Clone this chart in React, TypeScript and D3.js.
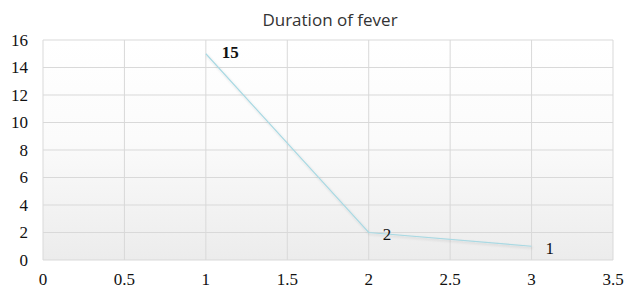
import React from "react";
import * as d3 from "d3";

const xValues = [1, 2, 3];
const feverDays = [15, 2, 1];
const dataLabels = ["15", "2", "1"];
const xTicks = [0, 0.5, 1, 1.5, 2, 2.5, 3, 3.5];
const yTicks = [0, 2, 4, 6, 8, 10, 12, 14, 16];

const width = 626;
const height = 288;
const margin = { top: 40, right: 13, bottom: 28, left: 43 };

const serif = "'Liberation Serif', 'Times New Roman', serif";

export default function App() {
  const x = d3
    .scaleLinear()
    .domain([0, 3.5])
    .range([margin.left, width - margin.right]);
  const y = d3
    .scaleLinear()
    .domain([0, 16])
    .range([height - margin.bottom, margin.top]);

  const pts = xValues.map((v, i) => ({ x: v, y: feverDays[i], label: dataLabels[i] }));
  const line = d3
    .line<{ x: number; y: number }>()
    .x((d) => x(d.x))
    .y((d) => y(d.y));

  const labelStyle = { fontFamily: serif, fontSize: 17 };

  return (
    <svg
      width={width}
      height={height}
      style={{ position: "absolute", left: 0, top: 0, background: "#fff" }}
    >
      <defs>
        <linearGradient id="bg" x1="0" y1="0" x2="0" y2="1">
          <stop offset="0%" stopColor="#ffffff" />
          <stop offset="45%" stopColor="#fbfbfb" />
          <stop offset="100%" stopColor="#ececec" />
        </linearGradient>
        <filter id="sh" x="-10%" y="-10%" width="120%" height="120%">
          <feDropShadow dx="1" dy="1.5" stdDeviation="1" floodColor="#000" floodOpacity="0.15" />
        </filter>
      </defs>
      <text
        x={330}
        y={20}
        dy="0.35em"
        textAnchor="middle"
        style={{ fontFamily: "'Open Sans', sans-serif", fontSize: 17 }}
        fill="#333"
      >
        Duration of fever
      </text>
      <rect
        x={x(0)}
        y={y(16)}
        width={x(3.5) - x(0)}
        height={y(0) - y(16)}
        fill="url(#bg)"
      />
      {yTicks.map((t) => (
        <line
          key={"gy" + t}
          x1={x(0)}
          x2={x(3.5)}
          y1={y(t)}
          y2={y(t)}
          stroke="#d9d9d9"
          strokeWidth={1}
        />
      ))}
      {xTicks.map((t) => (
        <line
          key={"gx" + t}
          x1={x(t)}
          x2={x(t)}
          y1={y(0)}
          y2={y(16)}
          stroke="#d9d9d9"
          strokeWidth={1}
        />
      ))}
      <path
        d={line(pts) || ""}
        fill="none"
        stroke="#a9d9e3"
        strokeWidth={1.2}
        filter="url(#sh)"
      />
      {pts.map((p, i) => (
        <text
          key={"dl" + i}
          x={x(p.x) + (i === 0 ? 16 : 14)}
          y={y(p.y) + (i === 0 ? -2 : 1.5)}
          dy="0.35em"
          style={labelStyle}
          fontWeight={i === 0 ? "bold" : "normal"}
          fill="#111"
        >
          {p.label}
        </text>
      ))}
      {yTicks.map((t) => (
        <text
          key={"yl" + t}
          x={28}
          y={y(t)}
          dy="0.35em"
          textAnchor="end"
          style={labelStyle}
          fill="#111"
        >
          {t}
        </text>
      ))}
      {xTicks.map((t) => (
        <text
          key={"xl" + t}
          x={x(t)}
          y={285}
          textAnchor="middle"
          style={labelStyle}
          fill="#111"
        >
          {t}
        </text>
      ))}
    </svg>
  );
}
